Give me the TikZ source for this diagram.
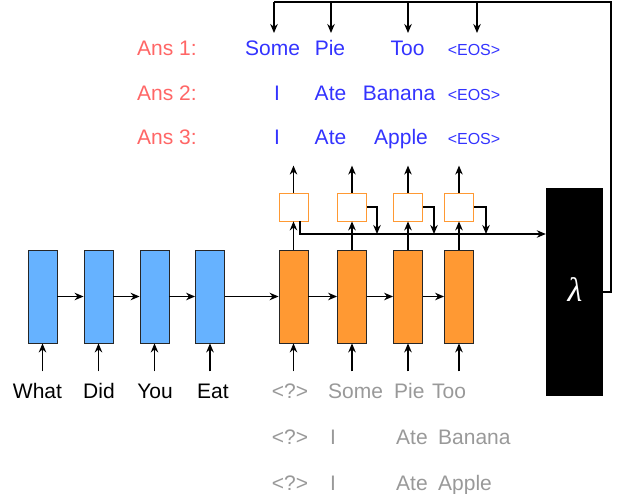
\documentclass[tikz,border=0pt]{standalone}
\usepackage{fontspec}
\setmainfont{Liberation Sans}
\newfontfamily\lamfont{Liberation Serif}
\usetikzlibrary{arrows.meta}
\definecolor{encblue}{HTML}{66B2FF}
\definecolor{decorange}{HTML}{FF9933}
\definecolor{ansred}{HTML}{FF6666}
\definecolor{ansblue}{HTML}{3333FF}
\definecolor{tokgray}{HTML}{999999}
\begin{document}
\begin{tikzpicture}[x=1pt,y=-1pt,
  arr/.style={-{Stealth[length=9pt,width=7.5pt]}, line width=1.3pt},
  ln/.style={line width=1.3pt},
  enc/.style={draw=black!85, fill=encblue, minimum width=29pt, minimum height=93pt, inner sep=0pt, line width=0.8pt},
  dec/.style={enc, fill=decorange},
  sbox/.style={draw=decorange, fill=white, minimum width=29pt, minimum height=28pt, inner sep=0pt, line width=0.8pt},
  txt/.style={font=\fontsize{21}{25}\selectfont, inner sep=0pt, anchor=base},
  wtxt/.style={txt, anchor=base west},
  eos/.style={font=\fontsize{16}{19}\selectfont, inner sep=0pt, anchor=base, text=ansblue},
  red/.style={txt, text=ansred},
  blue/.style={txt, text=ansblue},
  gray/.style={wtxt, text=tokgray},
  grayc/.style={txt, text=tokgray}
]
\useasboundingbox (0,0) rectangle (618,494);

% encoder
\node[enc] (e1) at (42.5,296.5) {};
\node[enc] (e2) at (98.5,296.5) {};
\node[enc] (e3) at (154.5,296.5) {};
\node[enc] (e4) at (210,296.5) {};
% decoder
\node[dec] (d1) at (293.5,296.5) {};
\node[dec] (d2) at (352,296.5) {};
\node[dec] (d3) at (408,296.5) {};
\node[dec] (d4) at (459,296.5) {};
% small boxes
\node[sbox] (s1) at (293.5,207) {};
\node[sbox] (s2) at (352,207) {};
\node[sbox] (s3) at (408,207) {};
\node[sbox] (s4) at (459,207) {};
% lambda
\node[fill=black, minimum width=57pt, minimum height=208pt, inner sep=0pt] (lam) at (574.5,292) {};
\node[text=white, inner sep=0pt, font=\fontsize{34}{38}\selectfont\lamfont\itshape] (lamtxt) at (575,290) {λ};

% horizontal chain
\draw[arr] (e1.east) -- (e2.west);
\draw[arr] (e2.east) -- (e3.west);
\draw[arr] (e3.east) -- (e4.west);
\draw[arr] (e4.east) -- (d1.west);
\draw[arr] (d1.east) -- (d2.west);
\draw[arr] (d2.east) -- (d3.west);
\draw[arr] (d3.east) -- (d4.west);

% inputs
\foreach \n in {e1,e2,e3,e4,d1,d2,d3,d4}
  \draw[arr] ([yshift=-28pt]\n.south) -- (\n.south);

% decoder to small boxes and outputs
\foreach \i in {1,2,3,4} {
  \draw[arr] (d\i.north) -- (s\i.south);
  \draw[arr] (s\i.north) -- ++(0,-27);
}

% collecting line into lambda
\coordinate (lamin) at ([yshift=58pt]lam.west);
\draw[arr] ([xshift=6.5pt]s1.south) |- (lamin);
\coordinate (j2) at (377,234);
\coordinate (j3) at (434,234);
\coordinate (j4) at (486,234);
\draw[arr] (s2.east) -| (j2);
\draw[arr] (s3.east) -| (j3);
\draw[arr] (s4.east) -| (j4);

% answers
\node[red] (r1) at (167,56) {Ans 1:};
\node[red] (r2) at (167,100.5) {Ans 2:};
\node[red] (r3) at (167,145) {Ans 3:};

\node[blue] (a11) at (272.5,56) {Some};
\node[blue] (a12) at (330,56) {Pie};
\node[blue] (a13) at (407.5,56) {Too};
\node[eos] (a14) at (474,56) {<EOS>};
\node[blue] (a21) at (277,100.5) {I};
\node[blue] (a22) at (330.5,100.5) {Ate};
\node[blue] (a23) at (399,100.5) {Banana};
\node[eos] (a24) at (474,100.5) {<EOS>};
\node[blue] (a31) at (277,145) {I};
\node[blue] (a32) at (330.5,145) {Ate};
\node[blue] (a33) at (401,145) {Apple};
\node[eos] (a34) at (474,145) {<EOS>};

% feedback loop
\coordinate (ftop) at (611,2);
\coordinate (tipy) at (0,33);
\coordinate (f1) at (274,2);
\coordinate (f2) at (331,2);
\coordinate (f3) at (408,2);
\coordinate (f4) at (477,2);
\draw[ln] (lam.east) -| (ftop) -- (f1);
\draw[arr] (f1) -- (f1 |- tipy);
\draw[arr] (f2) -- (f2 |- tipy);
\draw[arr] (f3) -- (f3 |- tipy);
\draw[arr] (f4) -- (f4 |- tipy);

% encoder words
\node[txt] (w1) at (37.5,398) {What};
\node[txt] (w2) at (99,398) {Did};
\node[txt] (w3) at (155,398) {You};
\node[txt] (w4) at (213,398) {Eat};

% decoder inputs (gray)
\node[grayc] (g10) at (290,398) {<?>};
\node[gray] (g11) at (328,398) {Some};
\node[gray] (g12) at (394,398) {Pie};
\node[gray] (g13) at (432,398) {Too};
\node[grayc] (g20) at (290,444) {<?>};
\node[gray] (g21) at (330,444) {I};
\node[gray] (g22) at (396,444) {Ate};
\node[gray] (g23) at (438,444) {Banana};
\node[grayc] (g30) at (290,490) {<?>};
\node[gray] (g31) at (330,490) {I};
\node[gray] (g32) at (396,490) {Ate};
\node[gray] (g33) at (438,490) {Apple};
\end{tikzpicture}
\end{document}
